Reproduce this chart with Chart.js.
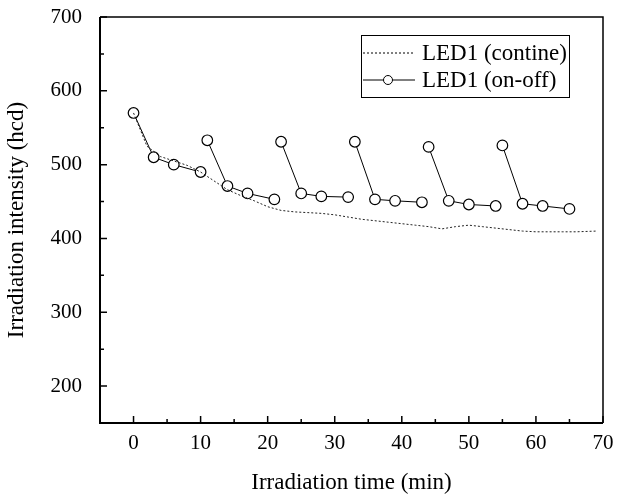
<!DOCTYPE html>
<html>
<head>
<meta charset="utf-8">
<script src="https://cdn.jsdelivr.net/npm/chart.js@4/dist/chart.umd.min.js"></script>
<style>
  body { margin: 0; background: #fff; }
  #wrap { width: 617px; height: 497px; }
</style>
</head>
<body>
<div id="wrap"><canvas id="ledChart"></canvas></div>
<script>
// --- data ---
const timeCont = [0, 2, 4, 6, 8, 10, 12, 14, 16, 18, 20, 22, 24, 26, 28, 30, 32, 34, 36, 38, 40, 42, 44, 46, 48, 50, 52, 54, 56, 58, 60, 62, 64, 66, 69];
const intensityCont = [570, 525, 511, 505, 499, 490, 478, 466, 458, 451, 443, 438, 436, 435, 434, 432, 429, 426, 424, 422, 420, 418, 416, 413, 416, 418, 416, 414, 412, 410, 409, 409, 409, 409, 410];

const timeOnOff = [0, 3, 6, 10, 11, 14, 17, 21, 22, 25, 28, 32, 33, 36, 39, 43, 44, 47, 50, 54, 55, 58, 61, 65];
const intensityOnOff = [570, 510, 500, 490, 533, 471, 461, 453, 531, 461, 457, 456, 531, 453, 451, 449, 524, 451, 446, 444, 526, 447, 444, 440];
const cycleOnOff = [0, 0, 0, 0, 1, 1, 1, 1, 2, 2, 2, 2, 3, 3, 3, 3, 4, 4, 4, 4, 5, 5, 5, 5];

const xTicks = [0, 10, 20, 30, 40, 50, 60, 70];
const yTicks = [200, 300, 400, 500, 600, 700];

const seriesNames = ['LED1 (contine)', 'LED1 (on-off)'];

const serif = '"Liberation Serif", "Times New Roman", serif';

// frame + inward tick marks, like the original plot
const framePlugin = {
    id: 'frame',
    afterDraw(chart) {
        const { ctx, chartArea: { left, right, top, bottom }, scales: { x, y } } = chart;
        ctx.save();
        ctx.strokeStyle = '#000';
        ctx.lineWidth = 1.5;
        ctx.beginPath();
        ctx.moveTo(left, top); ctx.lineTo(right, top); ctx.lineTo(right, bottom);
        ctx.stroke();
        ctx.lineWidth = 2;
        ctx.beginPath();
        ctx.moveTo(left, top); ctx.lineTo(left, bottom); ctx.lineTo(right, bottom);
        ctx.stroke();

        ctx.lineWidth = 1.5;
        ctx.beginPath();
        x.ticks.forEach((t, i) => {
            const px = x.getPixelForValue(t.value);
            ctx.moveTo(px, bottom); ctx.lineTo(px, bottom - 7);
            if (i > 0) {
                const mx = x.getPixelForValue((t.value + x.ticks[i - 1].value) / 2);
                ctx.moveTo(mx, bottom); ctx.lineTo(mx, bottom - 4);
            }
        });
        y.ticks.forEach((t, i) => {
            const py = y.getPixelForValue(t.value);
            ctx.moveTo(left, py); ctx.lineTo(left + 7, py);
            if (i > 0) {
                const my = y.getPixelForValue((t.value + y.ticks[i - 1].value) / 2);
                ctx.moveTo(left, my); ctx.lineTo(left + 4, my);
            }
        });
        ctx.stroke();
        ctx.restore();
    }
};

// boxed legend inside the plot, top right
const legendBoxPlugin = {
    id: 'legendBox',
    afterDraw(chart) {
        const { ctx, chartArea: { right, top } } = chart;
        const bx = right - 242, by = top + 18, bw = 208, bh = 62;
        ctx.save();
        ctx.strokeStyle = '#000';
        ctx.lineWidth = 1;
        ctx.strokeRect(bx + 0.5, by + 0.5, bw, bh);
        ctx.font = '23px ' + serif;
        ctx.fillStyle = '#000';
        ctx.textBaseline = 'middle';
        chart.data.datasets.forEach((ds, i) => {
            const ry = by + 18 + i * 27;
            ctx.beginPath();
            ctx.setLineDash(ds.borderDash || []);
            ctx.lineWidth = 1;
            ctx.moveTo(bx + 2, ry); ctx.lineTo(bx + 54, ry);
            ctx.stroke();
            ctx.setLineDash([]);
            if (ds.pointRadius) {
                ctx.beginPath();
                ctx.arc(bx + 27, ry, 4.5, 0, Math.PI * 2);
                ctx.fillStyle = '#fff';
                ctx.fill();
                ctx.stroke();
                ctx.fillStyle = '#000';
            }
            ctx.fillText(ds.label, bx + 61, ry + 1);
        });
        ctx.restore();
    }
};

const ctx = document.getElementById('ledChart');
new Chart(ctx, {
    type: 'line',
    data: {
        datasets: [
            {
                label: seriesNames[0],
                data: timeCont.map((t, i) => ({ x: t, y: intensityCont[i] })),
                borderColor: '#222',
                borderWidth: 1,
                borderDash: [2, 2],
                pointRadius: 0,
                tension: 0
            },
            {
                label: seriesNames[1],
                data: timeOnOff.map((t, i) => ({ x: t, y: intensityOnOff[i] })),
                borderColor: '#000',
                borderWidth: 1,
                pointRadius: 5.3,
                pointBackgroundColor: '#fff',
                pointBorderColor: '#000',
                pointBorderWidth: 1.2,
                tension: 0,
                segment: {
                    // no line between the end of one on-cycle and the next peak
                    borderColor: c => cycleOnOff[c.p0DataIndex] !== cycleOnOff[c.p1DataIndex] ? 'rgba(0,0,0,0)' : '#000'
                }
            }
        ]
    },
    options: {
        responsive: true,
        maintainAspectRatio: false,
        animation: false,
        layout: { padding: { left: 0, right: 14, top: 17, bottom: 0 } },
        plugins: {
            legend: { display: false },
            tooltip: { enabled: false }
        },
        scales: {
            x: {
                type: 'linear',
                min: -5,
                max: 70,
                grid: { display: false, drawTicks: false },
                border: { display: false },
                afterBuildTicks: s => { s.ticks = xTicks.map(v => ({ value: v })); },
                afterFit: s => { s.height = 74; s.paddingLeft = 0; s.paddingRight = 0; },
                ticks: { color: '#000', font: { family: serif, size: 21 }, padding: 8, maxRotation: 0, autoSkip: false },
                title: {
                    display: true,
                    text: 'Irradiation time (min)',
                    color: '#000',
                    font: { family: serif, size: 23 },
                    padding: { top: 0, bottom: 0 }
                }
            },
            y: {
                min: 150,
                max: 700,
                grid: { display: false, drawTicks: false },
                border: { display: false },
                afterBuildTicks: s => { s.ticks = yTicks.map(v => ({ value: v })); },
                afterFit: s => { s.width = 100; s.paddingTop = 0; s.paddingBottom = 0; },
                ticks: { color: '#000', font: { family: serif, size: 21 }, padding: 18 },
                title: {
                    display: true,
                    text: 'Irradiation intensity (hcd)',
                    color: '#000',
                    font: { family: serif, size: 23 },
                    padding: { top: 3, bottom: 0 }
                }
            }
        }
    },
    plugins: [framePlugin, legendBoxPlugin]
});
</script>
</body>
</html>
